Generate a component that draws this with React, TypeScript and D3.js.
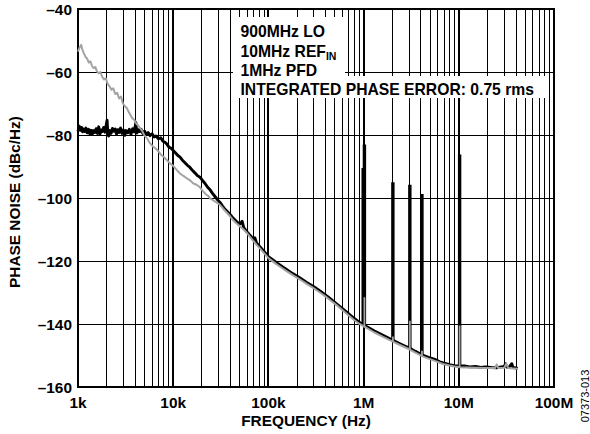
import React from "react";
import * as d3 from "d3";

const yTicks = [-160, -140, -120, -100, -80, -60, -40];
const xTicks = [1e3, 1e4, 1e5, 1e6, 1e7, 1e8];
const xTickLabels = ["1k", "10k", "100k", "1M", "10M", "100M"];
const legendLines = ["900MHz LO", "10MHz REF", "1MHz PFD", "INTEGRATED PHASE ERROR: 0.75 rms"];

const blackTrace: [number, number][] = [
  [1000,-78.8],[1030,-77.2],[1060,-78.5],[1090,-77.6],[1120,-79.0],[1150,-78.1],[1180,-78.9],[1210,-77.8],
  [1250,-79.3],[1290,-78.2],[1330,-79.6],[1370,-78.5],[1410,-79.8],[1450,-78.6],[1500,-79.2],[1550,-78.0],
  [1600,-79.5],[1650,-77.4],[1700,-79.8],[1750,-78.4],[1800,-78.9],[1860,-77.6],[1920,-79.1],[1980,-76.8],
  [2020,-75.3],[2060,-79.6],[2100,-80.3],[2160,-78.6],[2230,-79.4],[2300,-77.9],[2380,-78.8],[2460,-78.1],
  [2540,-79.7],[2620,-78.3],[2700,-79.2],[2800,-77.8],[2900,-79.5],[3000,-78.4],[3100,-80.1],[3200,-78.6],
  [3330,-79.3],[3460,-78.2],[3600,-79.8],[3750,-78.0],[3900,-79.0],[4050,-76.0],[4150,-79.4],[4300,-78.3],
  [4450,-78.9],[4600,-78.2],[4800,-79.5],[5000,-78.8],[5200,-79.8],[5450,-79.2],[5700,-80.2],[6000,-79.6],
  [6300,-80.6],[6600,-80.3],[7000,-81.2],[7400,-80.9],[7800,-82.0],[8200,-82.3],[8600,-82.9],[9000,-83.8],
  [9500,-84.2],[10000,-84.9],[10600,-85.7],[11200,-86.5],[11800,-87.0],[12500,-88.0],[13300,-88.8],
  [14100,-89.6],[15000,-90.3],[16000,-91.3],[17000,-92.1],[18000,-92.9],[19100,-93.4],[20300,-94.4],
  [21600,-95.4],[23000,-96.6],[24400,-97.4],[26000,-98.6],[27600,-99.6],[29300,-100.6],[31000,-101.4],
  [33000,-102.6],[35000,-103.6],[37200,-104.4],[39500,-105.2],[42000,-106.2],[44600,-107.0],[47400,-107.8],
  [50300,-108.2],[53000,-107.4],[55000,-109.4],[59000,-110.6],[63000,-111.6],[66000,-112.2],[69000,-113.2],
  [72000,-112.6],[75000,-114.3],[81000,-115.4],[90000,-117.0],[100000,-118.6],[120000,-120.4],[140000,-121.8],
  [155000,-122.7],[180000,-124.0],[213000,-125.3],[250000,-126.7],[300000,-128.2],[348000,-129.5],
  [420000,-131.3],[520000,-133.6],[650000,-136.0],[777000,-138.0],[900000,-139.4],[1040000,-140.6],
  [1300000,-142.2],[1600000,-143.6],[2030000,-145.2],[2500000,-146.5],[3060000,-147.7],[3500000,-148.7],
  [4100000,-149.8],[4800000,-150.6],[5200000,-150.9],[5600000,-151.2],[6300000,-152.0],[7000000,-152.4],
  [8000000,-152.9],[9000000,-153.2],[10100000,-153.3],[11500000,-153.3],[13000000,-153.6],[15000000,-153.5],
  [17000000,-153.8],[19000000,-153.6],[22000000,-153.8],[25000000,-153.9],[28000000,-153.6],[30000000,-153.5],
  [31000000,-152.6],[32000000,-153.7],[34000000,-153.6],[36000000,-152.6],[37000000,-153.7],[39000000,-153.9],
  [41600000,-154.1],
];

const greyTrace: [number, number][] = [
  [1000,-53.5],[1040,-52.2],[1080,-51.4],[1110,-52.8],[1150,-54.0],[1200,-55.2],[1250,-55.8],[1300,-57.0],
  [1350,-56.6],[1400,-58.0],[1460,-58.8],[1520,-58.4],[1580,-59.8],[1650,-60.4],[1720,-60.0],[1800,-61.6],
  [1880,-62.4],[1960,-62.0],[2050,-63.8],[2150,-64.6],[2250,-65.6],[2350,-65.2],[2460,-67.0],[2580,-66.6],
  [2700,-68.4],[2830,-67.8],[2960,-70.0],[3100,-70.8],[3250,-71.4],[3400,-72.6],[3520,-73.4],[3700,-74.6],
  [3900,-75.2],[4100,-76.4],[4300,-77.0],[4480,-77.8],[4700,-78.6],[5000,-80.2],[5300,-81.0],[5700,-82.6],
  [6100,-83.6],[6500,-84.2],[7000,-85.2],[7500,-86.4],[8000,-87.0],[8600,-88.0],[9250,-89.0],[10000,-89.8],
  [10800,-91.0],[11800,-92.2],[12800,-93.0],[14000,-93.8],[15000,-94.4],[16300,-95.4],[17600,-95.8],
  [19100,-96.6],[20500,-97.8],[22000,-98.8],[23500,-99.4],[24400,-100.1],[26500,-100.8],[28600,-101.4],
  [31000,-102.2],[33500,-103.4],[36500,-104.6],[39500,-105.8],[42000,-106.8],[46000,-108.0],[50000,-109.0],
  [55000,-110.0],[59000,-111.0],[63000,-112.0],[69000,-113.5],[75000,-114.8],[81000,-115.9],[90000,-117.5],
  [100000,-119.1],[120000,-120.9],[140000,-122.3],[155000,-123.2],[180000,-124.5],[213000,-125.8],
  [250000,-127.2],[300000,-128.7],[348000,-130.0],[420000,-131.8],[520000,-134.0],[650000,-136.5],
  [777000,-138.5],[900000,-139.9],[1040000,-141.0],[1300000,-142.7],[1600000,-144.1],[2030000,-145.6],
  [2500000,-146.9],[3060000,-148.1],[3500000,-149.1],[4100000,-150.2],[4800000,-151.0],[5600000,-151.7],
  [6300000,-152.3],[7000000,-152.8],[8000000,-153.2],[9000000,-153.5],[10100000,-153.7],[12000000,-153.8],
  [15000000,-153.9],[19000000,-154.0],[24000000,-154.0],[25000000,-152.8],[26000000,-154.0],[30000000,-153.9],
  [31500000,-152.6],[33000000,-154.0],[37000000,-154.1],[41800000,-154.2],
];

// spurs: [frequency, base dB, top dB]
const blackSpurs: [number, number, number][] = [
  [0.99e6, -140, -90.5], [1.02e6, -140.5, -83], [2.03e6, -145.2, -95], [3.06e6, -147.7, -95.8],
  [4.1e6, -149.8, -98.7], [10.2e6, -153.3, -86.2],
];
const greySpurs: [number, number, number][] = [
  [1.02e6, -141, -131.5], [2.03e6, -145.6, -144], [3.06e6, -148.1, -139], [4.1e6, -150.2, -148.5],
  [10.2e6, -153.7, -140.5],
];

const W = 590, H = 434;
const L = 78, R = 554, T = 9, B = 387;
const FONT = "'Liberation Sans', Arial, Helvetica, sans-serif";
const FS = 15.4;
const LEG_FS = 15.7;

export default function App() {
  const x = d3.scaleLog().domain([1e3, 1e8]).range([L, R]);
  const y = d3.scaleLinear().domain([-160, -40]).range([B, T]);
  const line = d3.line<[number, number]>().x(d => x(d[0])).y(d => y(d[1]));

  const minor: number[] = [];
  for (let e = 3; e < 8; e++) for (let k = 2; k <= 9; k++) minor.push(k * Math.pow(10, e));
  const major = [1e4, 1e5, 1e6, 1e7];

  const spurPath = (s: [number, number, number][]) =>
    s.map(([f, b, t]) => `M${x(f)},${y(b)}V${y(t)}`).join("");

  const legendX = 240.5;
  const baselines = [37, 56.5, 75.5, 95];

  return (
    <svg width={W} height={H} style={{ position: "absolute", left: 0, top: 0, background: "#fff" }}
      fontFamily={FONT}>
      <rect x={0} y={0} width={W} height={H} fill="#fff" />
      <g shapeRendering="crispEdges">
        {minor.map(f => (
          <line key={"mn" + f} x1={x(f)} x2={x(f)} y1={T} y2={B} stroke="#000" strokeWidth={1} />
        ))}
        {major.map(f => (
          <line key={"mj" + f} x1={x(f)} x2={x(f)} y1={T} y2={B} stroke="#000" strokeWidth={2} />
        ))}
        {yTicks.map(v => (
          <line key={"h" + v} x1={L} x2={R} y1={y(v)} y2={y(v)} stroke="#000" strokeWidth={1} />
        ))}
        {/* legend boxes */}
        <rect x={233} y={17} width={112} height={59} fill="#fff" />
        <rect x={233} y={76} width={312} height={22} fill="#fff" />
        <rect x={L} y={T} width={R - L} height={B - T} fill="none" stroke="#000" strokeWidth={2} />
      </g>
      <g fontWeight="bold" fontSize={LEG_FS} fill="#000">
        <text x={legendX} y={baselines[0]}>{legendLines[0]}</text>
        <text x={legendX} y={baselines[1]}>{legendLines[1]}<tspan fontSize={10.5} dy={3}>IN</tspan></text>
        <text x={legendX} y={baselines[2]}>{legendLines[2]}</text>
        <text x={legendX} y={baselines[3]}>{legendLines[3]}</text>
      </g>
      {/* traces */}
      <path d={line(blackTrace) || ""} fill="none" stroke="#000" strokeWidth={2.9} strokeLinejoin="round" />
      <path d={spurPath(blackSpurs)} fill="none" stroke="#000" strokeWidth={3.4} />
      <path d={line(greyTrace) || ""} fill="none" stroke="#a3a3a3" strokeWidth={2} strokeLinejoin="round" />
      <path d={spurPath(greySpurs)} fill="none" stroke="#a3a3a3" strokeWidth={1.8} />
      {/* y tick labels */}
      <g fontWeight="bold" fontSize={FS} textAnchor="end">
        {yTicks.map(v => (
          <text key={"yl" + v} x={L - 6} y={y(v) + 5.5}>{"\u2013" + Math.abs(v)}</text>
        ))}
      </g>
      <g fontWeight="bold" fontSize={FS} textAnchor="middle">
        {xTicks.map((f, i) => (
          <text key={"xl" + f} x={x(f)} y={407.5}>{xTickLabels[i]}</text>
        ))}
      </g>
      <text x={306} y={425.5} fontWeight="bold" fontSize={FS} textAnchor="middle">FREQUENCY (Hz)</text>
      <text transform={`translate(19.5,202) rotate(-90)`} fontWeight="bold" fontSize={FS} textAnchor="middle">
        PHASE NOISE (dBc/Hz)
      </text>
      <text transform={`translate(588.5,396) rotate(-90)`} fontSize={11} textAnchor="middle">07373-013</text>
    </svg>
  );
}
